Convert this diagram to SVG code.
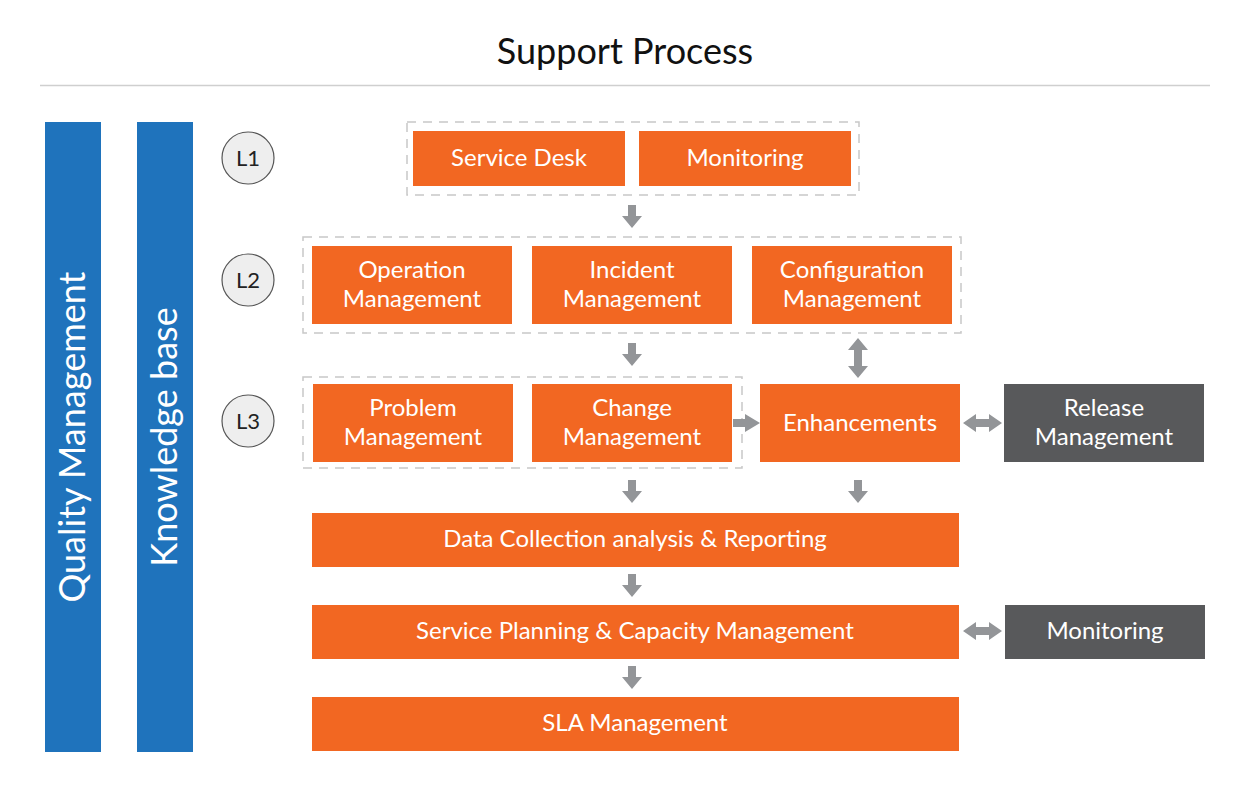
<svg xmlns="http://www.w3.org/2000/svg" width="1250" height="800" viewBox="0 0 1250 800">
<style>
text{font-family:Lato,"Open Sans","Liberation Sans",sans-serif}
.o{fill:#f26722}
.d{fill:#58595b}
.b{fill:#1f73bc}
.t{fill:#fff;font-size:24px;text-anchor:middle}
.s{fill:#fff;font-size:36px;text-anchor:middle}
.dash{fill:none;stroke:#c8c8c8;stroke-width:1.5;stroke-dasharray:9 7}
.c{fill:#eeeeee;stroke:#555;stroke-width:1.2}
.ct{fill:#222;font-size:22px;text-anchor:middle}
.a{fill:#939598}
</style>
<defs>
<path id="down" d="M-4,0 H4 V11 H10 L0,23 L-10,11 H-4 Z"/>
<path id="vdbl" d="M0,0 L10,12 H4 V28 H10 L0,40 L-10,28 H-4 V12 H-10 Z"/>
<path id="hdbl" d="M0,0 L13,-9 V-4 H26 V-9 L39,0 L26,9 V4 H13 V9 Z"/>
</defs>
<rect width="1250" height="800" fill="#fff"/>
<text x="625" y="64" style="font-size:36px;fill:#111;text-anchor:middle">Support Process</text>
<line x1="40" y1="85.5" x2="1210" y2="85.5" stroke="#cfcfcf" stroke-width="1.5"/>

<g id="quality"><rect class="b" x="45" y="122" width="56" height="630"/><text class="s" transform="translate(85,437) rotate(-90)">Quality Management</text></g>
<g id="knowledge"><rect class="b" x="137" y="122" width="56" height="630"/><text class="s" transform="translate(177,437) rotate(-90)">Knowledge base</text></g>

<g id="l1"><circle class="c" cx="248" cy="158" r="26"/><text class="ct" x="248" y="166">L1</text></g>
<g id="l2"><circle class="c" cx="248" cy="280" r="26"/><text class="ct" x="248" y="288">L2</text></g>
<g id="l3"><circle class="c" cx="248" cy="421" r="26"/><text class="ct" x="248" y="429">L3</text></g>

<g id="group-l1"><rect class="dash" x="407" y="122" width="452" height="73"/></g>
<g id="group-l2"><rect class="dash" x="303" y="237" width="658" height="96"/></g>
<g id="group-l3"><rect class="dash" x="303" y="377" width="439" height="91"/></g>

<g id="service-desk"><rect class="o" x="413" y="131" width="212" height="55"/><text class="t" x="519" y="166">Service Desk</text></g>
<g id="monitoring-l1"><rect class="o" x="639" y="131" width="212" height="55"/><text class="t" x="745" y="166">Monitoring</text></g>

<g id="operation"><rect class="o" x="312" y="246" width="200" height="78"/><text class="t" x="412" y="278">Operation</text><text class="t" x="412" y="307">Management</text></g>
<g id="incident"><rect class="o" x="532" y="246" width="200" height="78"/><text class="t" x="632" y="278">Incident</text><text class="t" x="632" y="307">Management</text></g>
<g id="configuration"><rect class="o" x="752" y="246" width="200" height="78"/><text class="t" x="852" y="278">Configuration</text><text class="t" x="852" y="307">Management</text></g>

<g id="problem"><rect class="o" x="313" y="384" width="200" height="78"/><text class="t" x="413" y="416">Problem</text><text class="t" x="413" y="445">Management</text></g>
<g id="change"><rect class="o" x="532" y="384" width="200" height="78"/><text class="t" x="632" y="416">Change</text><text class="t" x="632" y="445">Management</text></g>
<g id="enhancements"><rect class="o" x="760" y="384" width="200" height="78"/><text class="t" x="860" y="431">Enhancements</text></g>
<g id="release"><rect class="d" x="1004" y="384" width="200" height="78"/><text class="t" x="1104" y="416">Release</text><text class="t" x="1104" y="445">Management</text></g>

<g id="data-collection"><rect class="o" x="312" y="513" width="647" height="54"/><text class="t" x="635" y="547">Data Collection analysis &amp; Reporting</text></g>
<g id="service-planning"><rect class="o" x="312" y="605" width="647" height="54"/><text class="t" x="635" y="639">Service Planning &amp; Capacity Management</text></g>
<g id="monitoring-2"><rect class="d" x="1005" y="605" width="200" height="54"/><text class="t" x="1105" y="639">Monitoring</text></g>
<g id="sla"><rect class="o" x="312" y="697" width="647" height="54"/><text class="t" x="635" y="731">SLA Management</text></g>

<g id="connectors" class="a">
<use href="#down" x="632" y="205"/>
<use href="#down" x="632" y="343"/>
<use href="#vdbl" x="858" y="338"/>
<path d="M733,419 H745 V414 L760,423 L745,432 V427 H733 Z"/>
<use href="#hdbl" x="963" y="423"/>
<use href="#down" x="632" y="480"/>
<use href="#down" x="858" y="480"/>
<use href="#down" x="632" y="574"/>
<use href="#hdbl" x="963" y="631"/>
<use href="#down" x="632" y="666"/>
</g>
</svg>
